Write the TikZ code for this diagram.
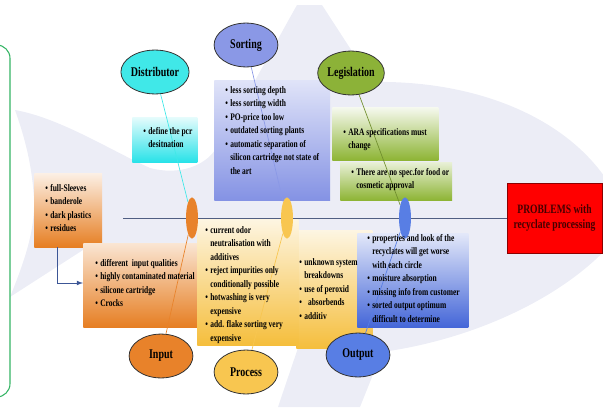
\documentclass[tikz,border=0pt]{standalone}
\usepackage{fontspec}
\setmainfont{Liberation Serif}[FakeStretch=0.75]
\usepackage{xcolor}
\usetikzlibrary{shapes.geometric, arrows}

\definecolor{fishbg}{RGB}{236,237,246}
\definecolor{frame}{RGB}{52,180,100}
\definecolor{spinec}{RGB}{80,94,130}
\definecolor{flowc}{RGB}{60,86,150}
\definecolor{cyanE}{RGB}{64,232,232}
\definecolor{cyanB}{RGB}{40,226,232}
\definecolor{sortE}{RGB}{138,152,230}
\definecolor{sortB}{RGB}{132,146,228}
\definecolor{legE}{RGB}{140,178,56}
\definecolor{legB}{RGB}{141,180,52}
\definecolor{inE}{RGB}{232,130,42}
\definecolor{inB}{RGB}{230,126,34}
\definecolor{procE}{RGB}{248,198,80}
\definecolor{procB}{RGB}{245,190,60}
\definecolor{outE}{RGB}{88,126,228}
\definecolor{outB}{RGB}{68,102,216}
\definecolor{probtext}{RGB}{70,0,0}

\newcommand{\lbul}{\makebox[3.8pt][l]{\textbullet}}
\newcommand{\lind}{\hspace*{3.8pt}}

\begin{document}
\begin{tikzpicture}[x=0.752pt, y=-0.752pt,
  cat/.style={ellipse, draw=black!80, line width=0.6pt, minimum width=48pt,
    minimum height=33pt, inner sep=0pt, font=\fontsize{10}{12}\selectfont\bfseries},
  bone/.style={ellipse, minimum width=9pt, minimum height=31pt, inner sep=0pt},
  box/.style={rectangle, anchor=north west, inner sep=0pt},
  txt/.style={anchor=north west, align=left, inner sep=0pt,
    font=\fontsize{7.5}{10.15}\selectfont\bfseries},
  link/.style={line width=0.5pt}]
    \clip (0,0) rectangle (603,407);

    % fish in the background
    \fill[fishbg] (15,110) .. controls (60,118) and (110,150) .. (150,168)
        .. controls (180,176) and (205,165) .. (215,150)
        .. controls (245,100) and (280,35) .. (297,5)
        -- (322,5) -- (372,82)
        .. controls (480,80) and (570,120) .. (610,185)
        -- (610,245)
        .. controls (560,300) and (470,340) .. (382,352)
        -- (360,407) -- (278,407) -- (300,342)
        .. controls (200,330) and (130,290) .. (83,250)
        -- (10,297)
        .. controls (25,260) and (35,230) .. (34,200)
        .. controls (32,160) and (22,130) .. (15,110) -- cycle;

    % green frame on the left
    \draw[frame, line width=0.8pt, rounded corners=10pt] (-30,45) rectangle (10,397);

    % boxes
    \node[box, top color=cyanB!12, bottom color=cyanB, minimum width=48.9pt, minimum height=33.8pt] (distbox) at (132,117) {};
    \node[box, top color=sortB!25, bottom color=sortB, minimum width=87.2pt, minimum height=90.2pt] (sortbox) at (214,80) {};
    \node[box, top color=legB!8, bottom color=legB, minimum width=79.7pt, minimum height=39.9pt] (legbox1) at (332,107) {};
    \node[box, top color=legB!20, bottom color=legB, minimum width=84.2pt, minimum height=28.6pt] (legbox2) at (340,162) {};
    \node[box, top color=inB!12, bottom color=inB, minimum width=51.1pt, minimum height=55.6pt] (sleevebox) at (34,173) {};
    \node[box, top color=inB!20, bottom color=inB, minimum width=85.7pt, minimum height=63.2pt] (inbox) at (83,243) {};
    \node[box, top color=procB!15, bottom color=procB, minimum width=57.2pt, minimum height=88.7pt] (procbox2) at (296,230) {};
    \node[box, top color=procB!15, bottom color=procB, minimum width=76pt, minimum height=94.8pt] (procbox) at (197,219) {};
    \node[box, top color=outB!15, bottom color=outB, minimum width=83.5pt, minimum height=70.7pt] (outbox) at (357,233) {};

    % spine and head
    \node[draw=red!55!black, fill=red, line width=0.6pt, minimum width=71.4pt, minimum height=52.6pt,
        align=center, text=probtext, font=\fontsize{9.6}{11.3}\selectfont\bfseries]
        (problem) at (554.5,218) {PROBLEMS with\\recyclate processing};
    \coordinate (tailend) at (123,218);
    \draw[spinec, line width=0.7pt] (tailend) -- (problem.west);

    % bones on the spine
    \node[bone, fill=inE] (bonein) at (192,218) {};
    \node[bone, fill=procE] (boneproc) at (287,218) {};
    \node[bone, fill=outE] (boneout) at (405,218) {};

    % causes
    \node[cat, fill=cyanE] (dist) at (155,72) {Distributor};
    \node[cat, fill=sortE] (sort) at (246,45) {Sorting};
    \node[cat, fill=legE] (leg) at (351,73) {Legislation};
    \node[cat, fill=inE] (input) at (161,356) {Input};
    \node[cat, fill=procE] (process) at (246,372) {Process};
    \node[cat, fill=outE] (output) at (358,355) {Output};

    % links to the bones
    \draw[link, cyanE] (dist) -- (bonein);
    \draw[link, sortE] (sort) -- (boneproc);
    \draw[link, legE!80!black] (leg) -- (boneout);
    \draw[link, inE] (input) -- (bonein);
    \draw[link, procE] (process) -- (boneproc);
    \draw[link, outE] (output) -- (boneout);

    \coordinate (bend) at (57,283);
    \draw[flowc, line width=0.6pt, -latex] (sleevebox.south -| bend) -- (bend) -- (inbox.west |- bend);

    % texts
    \node[txt] (disttxt) at (143,127) {\lbul define the pcr\\ \lind desitnation};
    \node[txt] (sorttxt) at (225,86) {\lbul less sorting depth\\ \lbul less sorting width\\
        \lbul PO-price too low\\ \lbul outdated sorting plants\\ \lbul automatic separation of\\
        \lind silicon cartridge not state of\\ \lind the art};
    \node[txt] (legtxt1) at (343,128) {\lbul ARA specifications must\\ \lind change};
    \node[txt] (legtxt2) at (351,168) {\lbul There are no spec.for food or\\ \lind cosmetic approval};
    \node[txt] (sleevetxt) at (45,184) {\lbul full-Sleeves\\ \lbul banderole\\ \lbul dark plastics\\ \lbul residues};
    \node[txt] (intxt) at (95,259) {\lbul different\ \ input qualities\\ \lbul highly contaminated material\\
        \lbul silicone cartridge\\ \lbul Crocks};
    \node[txt] (proctxt) at (205,226) {\lbul current odor\\ \lind neutralisation with\\ \lind additives\\
        \lbul reject impurities only\\ \lind conditionally possible\\ \lbul hotwashing is very\\
        \lind expensive\\ \lbul add. flake sorting very\\ \lind expensive};
    \node[txt] (proctxt2) at (299,258) {\lbul unknown system\\ \lind breakdowns\\ \lbul use of peroxid\\
        \lbul\ \ absorbends\\ \lbul additiv};
    \node[txt] (outtxt) at (367,234) {\lbul properties and look of the\\ \lind recyclates will get worse\\
        \lind with each circle\\ \lbul moisture absorption\\ \lbul missing info from customer\\
        \lbul sorted output optimum\\ \lind difficult to determine};
\end{tikzpicture}
\end{document}
